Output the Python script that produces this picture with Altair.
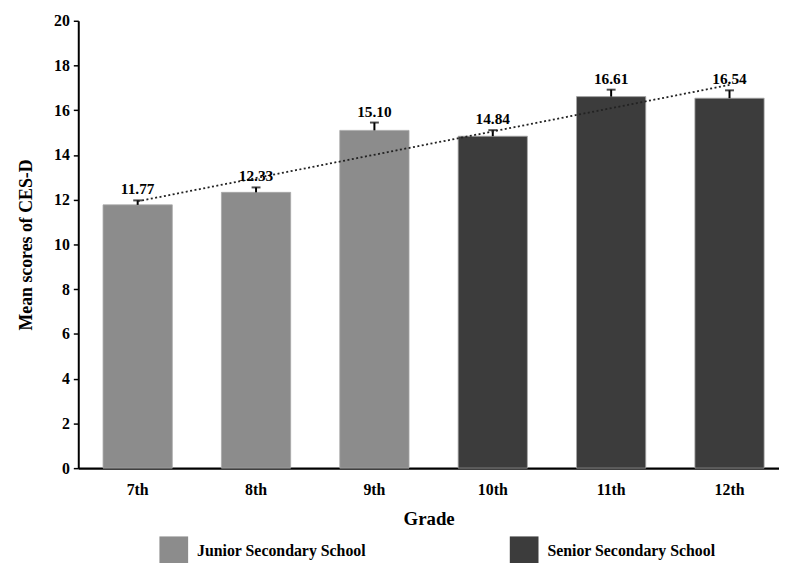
import altair as alt
import pandas as pd

grades = ["7th", "8th", "9th", "10th", "11th", "12th"]
means = [11.77, 12.33, 15.10, 14.84, 16.61, 16.54]
errors = [0.20, 0.22, 0.35, 0.27, 0.31, 0.35]
schools = ["Junior Secondary School"] * 3 + ["Senior Secondary School"] * 3
school_names = ["Junior Secondary School", "Senior Secondary School"]
school_colors = ["#8c8c8c", "#3c3c3c"]
y_ticks = [0, 2, 4, 6, 8, 10, 12, 14, 16, 18, 20]

df = pd.DataFrame({
    "Grade": grades,
    "idx": list(range(1, len(grades) + 1)),
    "Mean": means,
    "Err": errors,
    "School": schools,
})
df["Upper"] = df["Mean"] + df["Err"]

FONT = "Liberation Serif"

x_scale = alt.Scale(domain=grades, paddingInner=0.415, paddingOuter=0.1675, align=0.625)
y_scale = alt.Scale(domain=[0, 20], nice=False)

x_enc = alt.X("Grade:N", scale=x_scale, sort=grades,
              axis=alt.Axis(title="Grade", labelAngle=0, ticks=False,
                            labelPadding=14, titlePadding=12,
                            domainWidth=2.5, domainColor="black"))
y_enc = alt.Y("Mean:Q", scale=y_scale,
              axis=alt.Axis(title="Mean scores of CES-D", values=y_ticks,
                            grid=False, tickSize=5, tickWidth=1.5, tickColor="black",
                            labelPadding=4, titlePadding=18,
                            domainWidth=2, domainColor="black"))

base = alt.Chart(df)

bars = base.mark_bar(stroke="#a8a8a8", strokeWidth=0.8).encode(
    x=x_enc,
    y=y_enc,
    color=alt.Color("School:N",
                    scale=alt.Scale(domain=school_names, range=school_colors),
                    legend=alt.Legend(title=None, orient="none", direction="horizontal",
                                      legendX=82, legendY=521,
                                      symbolType="square", symbolSize=841,
                                      symbolStrokeWidth=0, labelOffset=9,
                                      columnPadding=145,
                                      labelFont=FONT, labelFontSize=16,
                                      labelFontWeight="bold", labelColor="black",
                                      labelLimit=400)),
)

err_rule = base.mark_rule(color="black", strokeWidth=2).encode(
    x=alt.X("Grade:N", scale=x_scale, sort=grades),
    y=alt.Y("Mean:Q", scale=y_scale),
    y2="Upper:Q",
)

err_cap = base.mark_tick(color="black", thickness=2, size=9, orient="horizontal").encode(
    x=alt.X("Grade:N", scale=x_scale, sort=grades),
    y=alt.Y("Upper:Q", scale=y_scale),
)

labels = base.mark_text(font=FONT, fontSize=15.5, fontWeight="bold", color="black",
                        baseline="bottom", dy=-3).encode(
    x=alt.X("Grade:N", scale=x_scale, sort=grades),
    y=alt.Y("Upper:Q", scale=y_scale),
    text=alt.Text("Mean:Q", format=".2f"),
)

grade_array = "[" + ",".join("'" + g + "'" for g in grades) + "]"
trend = base.transform_regression("idx", "Mean", method="linear").transform_calculate(
    Grade=grade_array + "[round(datum.idx) - 1]"
).mark_line(color="#222222", strokeWidth=1.8, strokeDash=[2, 2.5]).encode(
    x=alt.X("Grade:N", scale=x_scale, sort=grades),
    y=alt.Y("Mean:Q", scale=y_scale),
)

chart = alt.layer(bars, err_rule, err_cap, trend, labels).properties(
    width=708, height=452,
    autosize=alt.AutoSizeParams(type="none"),
    padding={"left": 71, "top": 10, "right": 0, "bottom": 100},
).configure_view(stroke=None).configure_axis(
    labelFont=FONT, labelFontSize=16, labelFontWeight="bold", labelColor="black",
    titleFont=FONT, titleFontWeight="bold", titleColor="black",
).configure_axisX(titleFontSize=19).configure_axisY(titleFontSize=18)

chart.save("out.html", embed_options={"renderer": "svg", "actions": False})
